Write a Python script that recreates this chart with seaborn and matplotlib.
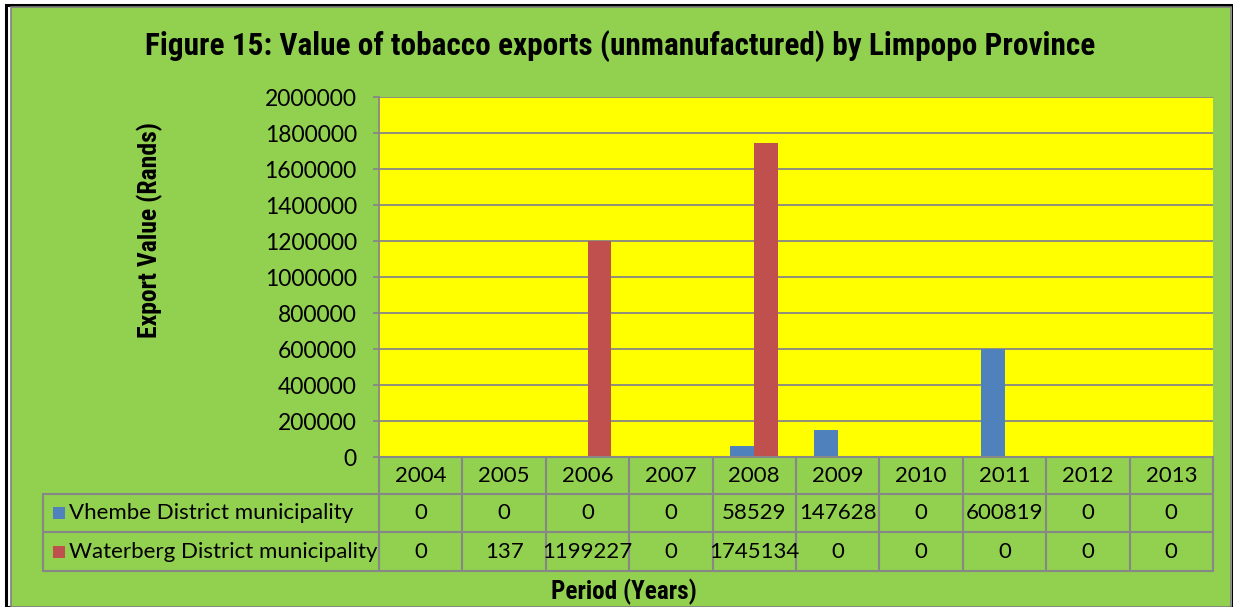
import matplotlib
matplotlib.use("Agg")
import matplotlib.pyplot as plt
import matplotlib.transforms as mtransforms
from matplotlib.patches import Rectangle
from matplotlib.lines import Line2D
from matplotlib import font_manager
import seaborn as sns
import pandas as pd

# ---- data ----
years = ["2004", "2005", "2006", "2007", "2008", "2009", "2010", "2011", "2012", "2013"]
series_names = ["Vhembe District municipality", "Waterberg District municipality"]
vhembe = [0, 0, 0, 0, 58529, 147628, 0, 600819, 0, 0]
waterberg = [0, 137, 1199227, 0, 1745134, 0, 0, 0, 0, 0]
yticks = [0, 200000, 400000, 600000, 800000, 1000000, 1200000, 1400000, 1600000, 1800000, 2000000]

title = "Figure 15: Value of tobacco exports (unmanufactured) by Limpopo Province"
ylabel = "Export Value (Rands)"
xlabel = "Period (Years)"

colors = ["#4F81BD", "#C0504D"]
GREEN = "#92D050"
YELLOW = "#FFFF00"
GRID = "#878787"

sns.set_theme(style="white")
plt.rcParams["font.family"] = ["Lato", "DejaVu Sans"]

installed = {f.name for f in font_manager.fontManager.ttflist}
NARROW = None
for cand in ["Liberation Sans Narrow", "Roboto Condensed", "Arial Narrow"]:
    if cand in installed:
        NARROW = [cand, "DejaVu Sans"]
        break
if NARROW is None:
    NARROW = ["Liberation Sans", "DejaVu Sans"]

df = pd.DataFrame({
    "Year": years * 2,
    "Series": [series_names[0]] * len(years) + [series_names[1]] * len(years),
    "Value": vhembe + waterberg,
})

W, H = 1233, 607
fig = plt.figure(figsize=(W / 100, H / 100), dpi=100, facecolor="white")

# frame / background
fig.patches.append(Rectangle((6 / W, 0), (1233 - 6) / W, (H - 5) / H, transform=fig.transFigure,
                             facecolor="none", edgecolor="black", lw=2.2, zorder=-10))
fig.patches.append(Rectangle((11 / W, 0), (1231 - 11) / W, (H - 7) / H, transform=fig.transFigure,
                             facecolor=GREEN, edgecolor="#7f7f7f", lw=1.2, zorder=-9))

ax = fig.add_axes([379 / W, (H - 457) / H, 834 / W, 360 / H])
ax.set_facecolor(YELLOW)

sns.barplot(data=df, x="Year", y="Value", hue="Series", order=years, hue_order=series_names,
            palette=colors, width=2 / 3.5, gap=0, saturation=1, legend=False, ax=ax,
            edgecolor="none", linewidth=0)

ax.set_xlim(-0.5, len(years) - 0.5)
ax.set_ylim(0, 2000000)
ax.set_yticks(yticks)
ax.set_yticklabels([str(v) for v in yticks], fontsize=16.5, color="black")
ax.set_xticks([])
ax.set_xlabel("")
ax.set_ylabel("")
ax.grid(False)
for v in yticks[1:]:
    ax.axhline(v, color=GRID, lw=1.3, zorder=0.5)
for s in ["top", "right"]:
    ax.spines[s].set_visible(False)
ax.spines["left"].set_color(GRID)
ax.spines["left"].set_linewidth(1.3)
ax.spines["bottom"].set_color(GRID)
ax.spines["bottom"].set_linewidth(1.5)
ax.tick_params(axis="y", which="major", left=True, length=4, width=1.3, color=GRID, pad=12)

# ---- data table ----
blend = mtransforms.blended_transform_factory(ax.transData, ax.transAxes)
y_head_bot = -37 / 360
y_r1_bot = -75 / 360
y_r2_bot = -114 / 360
x_lab_left = (43 - 379) / 834
lw_t = 1.5

for i in range(len(years) + 1):
    ax.add_line(Line2D([i - 0.5, i - 0.5], [0, y_r2_bot], transform=blend, color=GRID,
                       lw=lw_t, clip_on=False))
for yy in [y_head_bot, y_r1_bot, y_r2_bot]:
    ax.add_line(Line2D([x_lab_left, 1], [yy, yy], transform=ax.transAxes, color=GRID,
                       lw=lw_t, clip_on=False))
ax.add_line(Line2D([x_lab_left, x_lab_left], [y_head_bot, y_r2_bot], transform=ax.transAxes,
                   color=GRID, lw=lw_t, clip_on=False))

fs_tab = 16
for i, yr in enumerate(years):
    ax.text(i, (0 + y_head_bot) / 2, yr, transform=blend, ha="center", va="center",
            fontsize=fs_tab, color="black")
    ax.text(i, (y_head_bot + y_r1_bot) / 2, str(vhembe[i]), transform=blend, ha="center",
            va="center", fontsize=fs_tab, color="black")
    ax.text(i, (y_r1_bot + y_r2_bot) / 2, str(waterberg[i]), transform=blend, ha="center",
            va="center", fontsize=fs_tab, color="black")

for k, (name, col) in enumerate(zip(series_names, colors)):
    top = y_head_bot if k == 0 else y_r1_bot
    bot = y_r1_bot if k == 0 else y_r2_bot
    yc = (top + bot) / 2
    sq = 12
    ax.add_patch(Rectangle(((53 - 379) / 834, yc - (sq / 2) / 360), sq / 834, sq / 360,
                           transform=ax.transAxes, facecolor=col, edgecolor="none",
                           clip_on=False))
    ax.text((69 - 379) / 834, yc, name, transform=ax.transAxes, ha="left", va="center",
            fontsize=fs_tab, color="black")

# ---- titles ----
t = fig.text(620 / W, 1 - 46 / H, title, ha="center", va="center", fontsize=22,
             fontweight="bold", family=NARROW, color="black")
yl = fig.text(150 / W, 1 - 230 / H, ylabel, ha="center", va="center", rotation=90, fontsize=16,
              fontweight="bold", family=NARROW, color="black")
xl = fig.text(624 / W, 1 - 592 / H, xlabel, ha="center", va="center", fontsize=16,
              fontweight="bold", family=NARROW, color="black")

# fit title / axis-title sizes to the reference text extents
renderer = fig.canvas.get_renderer()
for txt, target, use_h in [(t, 947, False), (yl, 216, True), (xl, 146, False)]:
    bb = txt.get_window_extent(renderer)
    cur = bb.height if use_h else bb.width
    if cur > 0:
        txt.set_fontsize(txt.get_fontsize() * target / cur)

fig.savefig("out.png", dpi=100, facecolor="white")
